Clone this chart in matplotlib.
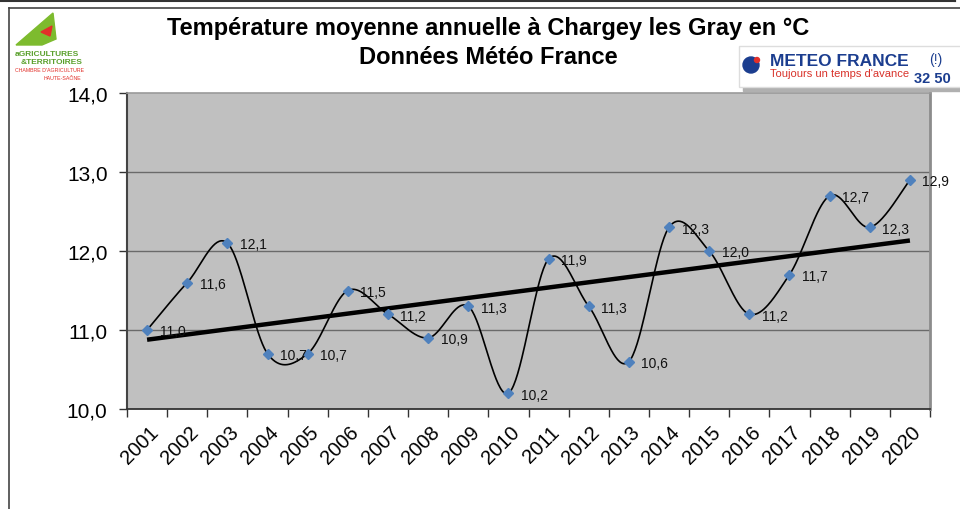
import numpy as np
import matplotlib
matplotlib.use("Agg")
import matplotlib.pyplot as plt
from matplotlib.lines import Line2D
from matplotlib.patches import Rectangle, Polygon, Ellipse

plt.rcParams['font.family'] = ['Liberation Sans', 'DejaVu Sans']

years = [str(y) for y in range(2001, 2021)]
temps = [11.0, 11.6, 12.1, 10.7, 10.7, 11.5, 11.2, 10.9, 11.3, 10.2,
         11.9, 11.3, 10.6, 12.3, 12.0, 11.2, 11.7, 12.7, 12.3, 12.9]
yticks = [10.0, 11.0, 12.0, 13.0, 14.0]
title1 = "Température moyenne annuelle à Chargey les Gray en °C"
title2 = "Données Météo France"

W, H = 960, 510
fig = plt.figure(figsize=(W / 100, H / 100), dpi=100)
fig.patch.set_facecolor('white')

def fx(px):
    return px / W

def fy(py):
    return 1 - py / H

# frame lines
fig.add_artist(Line2D([fx(0), fx(955)], [fy(1.5), fy(1.5)], color='#333333', lw=1.5))
fig.add_artist(Line2D([fx(955), fx(955)], [fy(0), fy(1.5)], color='#333333', lw=1.5))
fig.add_artist(Line2D([fx(8.5), fx(960)], [fy(8.5), fy(8.5)], color='#444444', lw=1.2))
fig.add_artist(Line2D([fx(8.5), fx(8.5)], [fy(8.5), fy(510)], color='#444444', lw=1.2))

x0, x1, y0, y1 = 127, 930, 94, 410
ax = fig.add_axes([fx(x0), fy(y1), fx(x1 - x0), (y1 - y0) / H])
ax.set_facecolor('#C0C0C0')

x = np.arange(len(temps), dtype=float)
y = np.array(temps)

# Excel-like smoothed line (Catmull-Rom bezier)
P = np.column_stack([x, y])
Pext = np.vstack([P[0], P, P[-1]])
curve = []
t = np.linspace(0, 1, 40)[:, None]
for i in range(len(P) - 1):
    p0, p3 = Pext[i + 1], Pext[i + 2]
    c1 = p0 + (Pext[i + 2] - Pext[i]) / 6.0
    c2 = p3 - (Pext[i + 3] - Pext[i + 1]) / 6.0
    seg = ((1 - t) ** 3) * p0 + 3 * ((1 - t) ** 2) * t * c1 + 3 * (1 - t) * t ** 2 * c2 + t ** 3 * p3
    curve.append(seg)
curve = np.vstack(curve)

for yv in yticks[1:-1]:
    ax.axhline(yv, color='#6a6a6a', lw=1.0, zorder=1)

ax.plot(curve[:, 0], curve[:, 1], color='black', lw=1.2, zorder=3)

# trend line
k, b = np.polyfit(x, y, 1)
ax.plot([x[0], x[-1]], [k * x[0] + b, k * x[-1] + b], color='black', lw=3.2, zorder=4,
        solid_capstyle='butt')

ax.plot(x, y, linestyle='none', marker='D', markersize=5.5, color='#4F81BD',
        markeredgecolor='#4F81BD', zorder=5)

for xi, yi in zip(x, y):
    ax.annotate(f"{yi:.1f}".replace('.', ','), (xi, yi), xytext=(9, -1),
                textcoords='offset points', ha='left', va='center', fontsize=10,
                color='#111111', zorder=6)

ax.set_xlim(-0.5, len(temps) - 0.5)
ax.set_ylim(10.0, 14.0)
ax.set_yticks(yticks)
ax.set_yticklabels([f"{v:.1f}".replace('.', ',') for v in yticks], fontsize=15)
ax.set_xticks(x)
ax.set_xticklabels(years, rotation=45, ha='right', va='top', rotation_mode='anchor',
                   fontsize=14.5)
ax.set_xticks(np.arange(-0.5, len(temps)), minor=True)
ax.tick_params(axis='x', which='major', length=0, pad=9)
ax.tick_params(axis='x', which='minor', length=6, width=1, color='#333333', direction='out')
ax.tick_params(axis='y', which='major', length=6, width=1, color='#333333', direction='out', pad=8)
for lab in ax.get_xticklabels():
    lab.set_transform(lab.get_transform() + matplotlib.transforms.ScaledTranslation(1 / 72, 0, fig.dpi_scale_trans))

ax.spines['left'].set_color('#444444')
ax.spines['left'].set_linewidth(1.5)
ax.spines['bottom'].set_color('#333333')
ax.spines['bottom'].set_linewidth(1.3)
ax.spines['right'].set_color('#8c8c8c')
ax.spines['right'].set_linewidth(2.0)
ax.spines['top'].set_color('#9a9a9a')
ax.spines['top'].set_linewidth(1.2)

# titles
fig.text(fx(488), fy(29), title1, ha='center', va='center', fontsize=17, fontweight='bold')
fig.text(fx(488), fy(58), title2, ha='center', va='center', fontsize=17, fontweight='bold')

# left logo (approximation)
fig.add_artist(Polygon([[fx(16), fy(46)], [fx(53), fy(14)], [fx(56), fy(40)], [fx(42), fy(46)]],
                       closed=True, color='#7dbb2e'))
fig.add_artist(Polygon([[fx(41), fy(33)], [fx(52), fy(27)], [fx(50), fy(37)]],
                       closed=True, color='#e2302a'))
fig.text(fx(15), fy(55), "aGRICULTURES", fontsize=6, color='#5aa02c', fontweight='bold', va='center')
fig.text(fx(21), fy(63), "&TERRITOIRES", fontsize=6, color='#5aa02c', fontweight='bold', va='center')
fig.text(fx(15), fy(71), "CHAMBRE D'AGRICULTURE", fontsize=3.8, color='#e2302a', va='center')
fig.text(fx(44), fy(78), "HAUTE-SAÔNE", fontsize=3.8, color='#e2302a', va='center')

# right logo (approximation)
fig.add_artist(Rectangle((fx(743), fy(92)), fx(220), (44) / H, color='#b0b0b0', zorder=0))
fig.add_artist(Rectangle((fx(739), fy(88)), fx(222), (41) / H, facecolor='white',
                         edgecolor='#dddddd', zorder=1))
fig.add_artist(Ellipse((fx(751), fy(66)), 16 / W, 16 / H, color='#1b3d8f', zorder=2))
fig.add_artist(Ellipse((fx(757), fy(61)), 5 / W, 5 / H, color='#e2302a', zorder=2))
fig.text(fx(770), fy(61), "METEO FRANCE", fontsize=12.5, color='#1b3d8f', fontweight='bold',
         va='center', zorder=3)
fig.text(fx(770), fy(74), "Toujours un temps d'avance", fontsize=8, color='#d8322a',
         va='center', zorder=3)
fig.text(fx(914), fy(79), "32 50", fontsize=10.5, color='#1b3d8f', fontweight='bold',
         va='center', zorder=3)
fig.text(fx(936), fy(60), "(!)", fontsize=10, color='#1b3d8f', ha='center', va='center', zorder=3)

fig.savefig("out.png", dpi=100)
